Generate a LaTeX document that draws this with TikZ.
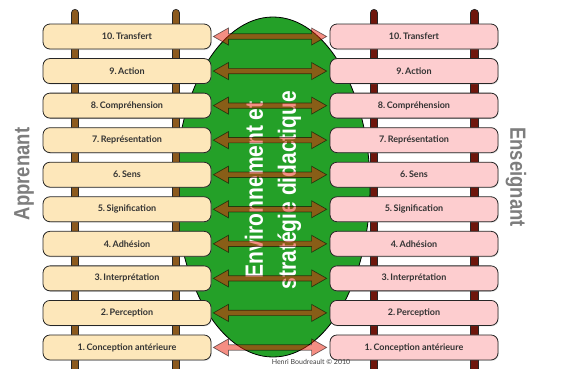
\documentclass[tikz,border=0pt]{standalone}
\usepackage{fontspec}
\setmainfont{Lato}
\newfontfamily\condfont[FakeStretch=0.84]{Liberation Sans}
\usetikzlibrary{calc,shadows}
\definecolor{cream}{RGB}{253,231,186}
\definecolor{rose}{RGB}{253,205,207}
\definecolor{railbrown}{RGB}{140,90,30}
\definecolor{raildark}{RGB}{110,22,12}
\definecolor{leaf}{RGB}{36,160,40}
\definecolor{arrowred}{RGB}{236,30,8}
\definecolor{sidegray}{RGB}{125,125,125}
\tikzset{
  rung/.style={draw=black!85, line width=.8pt, rounded corners=7pt,
    minimum width=168pt, minimum height=25pt,
    font=\bfseries\fontsize{9}{10}\selectfont, text=black!80,
    drop shadow={opacity=.2, shadow xshift=.8pt, shadow yshift=-1pt}},
  rail/.style={draw=black!85, line width=.8pt, double distance=6.5pt, line cap=round},
  bidir/.style={fill=arrowred, fill opacity=.5, draw=black, draw opacity=.55,
    line width=.7pt, line join=miter},
  side/.style={font=\condfont\bfseries\fontsize{22}{22}\selectfont, text=sidegray},
}
% fleche double entre deux barreaux
\newcommand\biarrow[2]{%
  \draw[bidir] ($(#1.east)+(2,0)$) -- ++(15,-8.5) -- ++(0,5.8)
    -- ($(#2.west)+(-18,-2.7)$) -- ++(0,-5.8) -- ($(#2.west)+(-3,0)$)
    -- ++(-15,8.5) -- ++(0,-5.8) -- ($(#1.east)+(17,2.7)$) -- ++(0,5.8) -- cycle;}
\begin{document}
\begin{tikzpicture}[x=1pt, y=-1pt, line join=round]
  \useasboundingbox (0,0) rectangle (570,368);
  \clip (0,0) rectangle (570,368);
  \def\xl{127} \def\xr{414} % centres des echelles
  \def\ytop{36.5} \def\dy{34.55}
  % environnement
  \draw[fill=leaf, line width=.8pt] (273,187) ellipse (97 and 170);
  % montants
  \draw[rail, double=railbrown] (75,13) -- (75,380);
  \draw[rail, double=railbrown] (176,13) -- (176,380);
  \draw[rail, double=raildark] (374,13) -- (374,380);
  \draw[rail, double=raildark] (474.5,13) -- (474.5,380);
  % barreaux
  \foreach \n/\t in {10/Transfert, 9/Action, 8/Compréhension, 7/Représentation,
      6/Sens, 5/Signification, 4/Adhésion, 3/Interprétation, 2/Perception,
      1/Conception antérieure}{
    \pgfmathsetmacro\y{\ytop+(10-\n)*\dy}
    \node[rung, fill=cream] (l\n) at (\xl,\y) {\n.\,\t};
    \node[rung, fill=rose] (r\n) at (\xr,\y) {\n.\,\t};
  }
  \node[side, rotate=90] (apprenant) at (24,174) {Apprenant};
  \node[side, rotate=-90] (enseignant) at (516,177) {Enseignant};
  \node[rotate=90, align=center, text=white,
    font=\condfont\bfseries\fontsize{25}{33}\selectfont] (milieu) at (273,190)
    {Environnement et\\stratégie didactique};
  \foreach \n in {1,...,10}{\biarrow{l\n}{r\n}}
  \node[font=\fontsize{7}{8}\selectfont, text=black!75] (auteur) at (311,362)
    {Henri Boudreault © 2010};
\end{tikzpicture}
\end{document}
